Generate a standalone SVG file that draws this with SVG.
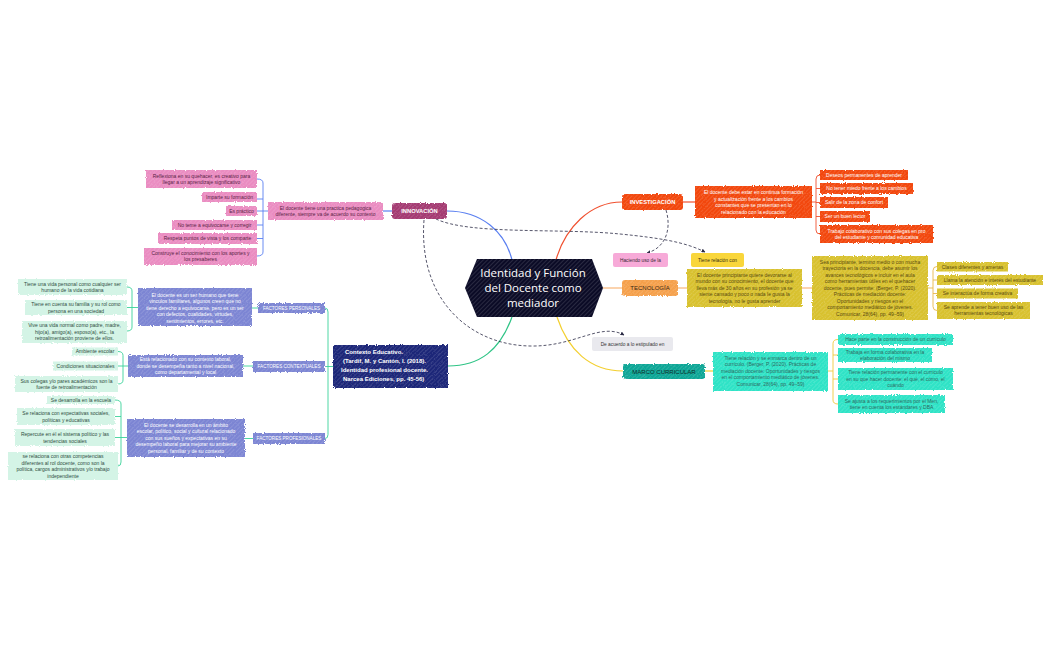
<svg xmlns="http://www.w3.org/2000/svg" width="1050" height="650" viewBox="0 0 1050 650">
<defs>
<pattern id="hatch" width="3" height="3" patternUnits="userSpaceOnUse" patternTransform="rotate(45)"><line x1="0" y1="0" x2="0" y2="3" stroke="#fff" stroke-opacity="0.36" stroke-width="0.7"/></pattern>
<filter id="rough" x="-5%" y="-15%" width="110%" height="130%"><feTurbulence type="fractalNoise" baseFrequency="0.9" numOctaves="1" seed="3" result="n"/><feDisplacementMap in="SourceGraphic" in2="n" scale="3" xChannelSelector="R" yChannelSelector="G"/></filter>
<marker id="arr" viewBox="0 0 8 8" refX="7" refY="4" markerWidth="5" markerHeight="5" orient="auto"><path d="M0,0 L8,4 L0,8 Z" fill="#2b2b45"/></marker>
<style>
text{font-family:"Liberation Sans",Arial,sans-serif;text-anchor:middle}
.s{font-size:5px}
.lab{font-size:5.8px;font-weight:bold}
.box{filter:url(#rough)}
.h{fill:url(#hatch);filter:url(#rough)}
.pk{fill:#ea8cc1}.pkt{fill:#5a2446}
.rd{fill:#f2460f}.w{fill:#fff}
.yl{fill:#d8c12e}.ylt{fill:#5b4c10}
.aq{fill:#2ee3c6}.aqt{fill:#2e6b62}
.mn{fill:#d4f4e6}.mnt{fill:#2f4e42}
.pv{fill:#7c85d3}
.c{fill:none;stroke-width:1.2}
.br{fill:none;stroke-width:0.9}
.d{fill:none;stroke:#2b2b45;stroke-width:0.8;stroke-dasharray:3 2;marker-end:url(#arr)}
</style>
</defs>
<rect width="1050" height="650" fill="#fff"/>

<g id="connectors">
<path class="c" stroke="#5a7ff0" d="M512,260 C505,232 482,211 447,211"/>
<path class="c" stroke="#5a7ff0" d="M383,211 H392"/>
<path class="br" stroke="#5a7ff0" d="M257,179 Q263,179 263,183 V252 Q263,256 257,256 M257,199 H263 M257,225 H263 M257,238.5 H263 M263,211 H268 M257,211 H263"/>
<path class="c" stroke="#f0502f" d="M556,260 C565,228 590,202 622,202"/>
<path class="c" stroke="#f0502f" d="M683,202 H695"/>
<path class="br" stroke="#f0502f" d="M820,175 Q816,175 816,179 V230 Q816,234 820,234 M816,188.5 H820 M816,202.5 H820 M816,216.5 H820 M812,202 H816"/>
<path class="c" stroke="#f7a85e" d="M603,288 H622 M678,288 H687 M802,288 H812"/>
<path class="br" stroke="#e8b84a" d="M937,266.5 Q933,266.5 933,270.5 V306.5 Q933,310.5 937,310.5 M933,280 H937 M933,293.5 H937 M928,288 H933"/>
<path class="c" stroke="#f3cf2f" d="M557,317 C568,350 590,371 623,371"/>
<path class="c" stroke="#f3cf2f" d="M705,371 H713"/>
<path class="br" stroke="#f0c93a" d="M838,339.5 Q833,339.5 833,343.5 V400 Q833,404 838,404 M833,355 H838 M833,379 H838 M828,371 H833"/>
<path class="c" stroke="#2fc486" d="M512,317 C500,350 480,366 448,366"/>
<path class="br" stroke="#3bd39a" d="M325,308 Q328,308 328,312 V434.5 Q328,438.5 325,438.5 M325,366.5 H333"/>
<path class="br" stroke="#3bd39a" d="M252,308 H258 M243,366 H253 M245,438.5 H253"/>
<path class="br" stroke="#3bd39a" d="M127,287 Q132,287 132,291 V327 Q132,331 127,331 M127,307.5 H138"/>
<path class="br" stroke="#3bd39a" d="M118,351.5 Q123,351.5 123,355.5 V380 Q123,384 118,384 M118,366 H128"/>
<path class="br" stroke="#3bd39a" d="M115,400 Q121,400 121,404 V462 Q121,466 118,466 M115,416.5 H121 M115,437.5 H127"/>
<path class="d" d="M424,220 C418,300 470,345 530,346 C575,347 600,322 624,335"/>
<path class="d" d="M436,219 C470,235 560,228 620,234 C660,238 685,242 705,252"/>
<path class="d" d="M666,210 C672,230 665,248 647,253"/>
</g>

<g id="center">
<polygon points="465,288 477,259 592,259 603,288 592,317 477,317" fill="#0b0b26"/>
<polygon points="465,288 477,259 592,259 603,288 592,317 477,317" fill="url(#hatch)"/>
<text x="533" y="277" fill="#fff" style="font-family:'Open Sans',sans-serif;font-size:11.5px">Identidad y Función</text>
<text x="533" y="292" fill="#fff" style="font-family:'Open Sans',sans-serif;font-size:11.5px">del Docente como</text>
<text x="533" y="307" fill="#fff" style="font-family:'Open Sans',sans-serif;font-size:11.5px">mediador</text>
</g>

<g id="innovacion">
<rect class="box" x="392" y="203" width="55" height="16" rx="3" fill="#a43a72"/><rect class="h" x="392" y="203" width="55" height="16" rx="3"/>
<text class="lab w" x="419.5" y="213">INNOVACIÓN</text>
</g>
<g id="innov-desc">
<rect class="box pk" x="268" y="202" width="115" height="18"/><rect class="h" x="268" y="202" width="115" height="18"/>
<text class="s pkt" x="325.5" y="209.5">El docente tiene una practica pedagogica</text>
<text class="s pkt" x="325.5" y="216">diferente, siempre va de acuerdo su contexto</text>
</g>
<g id="innov-1"><rect class="box pk" x="146" y="170" width="111" height="18"/><rect class="h" x="146" y="170" width="111" height="18"/>
<text class="s pkt" x="201.5" y="177.5">Reflexiona en su quehacer, es creativo para</text><text class="s pkt" x="201.5" y="184">llegar a un aprendizaje significativo</text></g>
<g id="innov-2"><rect class="box pk" x="202" y="192" width="55" height="10"/><rect class="h" x="202" y="192" width="55" height="10"/>
<text class="s pkt" x="229.5" y="198.8">Imparte su formación</text></g>
<g id="innov-3"><rect class="box pk" x="226" y="206" width="31" height="10"/><rect class="h" x="226" y="206" width="31" height="10"/>
<text class="s pkt" x="241.5" y="212.8">Es práctico</text></g>
<g id="innov-4"><rect class="box pk" x="172" y="220" width="85" height="10"/><rect class="h" x="172" y="220" width="85" height="10"/>
<text class="s pkt" x="214.5" y="226.8">No teme a equivocarse y corregir</text></g>
<g id="innov-5"><rect class="box pk" x="158" y="233" width="99" height="11"/><rect class="h" x="158" y="233" width="99" height="11"/>
<text class="s pkt" x="207.5" y="240.3">Respeta puntos de vista y los comparte</text></g>
<g id="innov-6"><rect class="box pk" x="144" y="248" width="113" height="17"/><rect class="h" x="144" y="248" width="113" height="17"/>
<text class="s pkt" x="200.5" y="254.8">Construye el conocimiento con los aportes y</text><text class="s pkt" x="200.5" y="261.3">los presaberes</text></g>

<g id="investigacion">
<rect class="box rd" x="622" y="194" width="61" height="16" rx="3"/><rect class="h" x="622" y="194" width="61" height="16" rx="3"/>
<text class="lab w" x="652.5" y="204.2">INVESTIGACIÓN</text>
</g>
<g id="invest-desc"><rect class="box rd" x="695" y="186" width="117" height="32"/><rect class="h" x="695" y="186" width="117" height="32"/>
<text class="s w" x="753.5" y="194">El docente debe estar en continua formación</text>
<text class="s w" x="753.5" y="200.5">y actualización frente a los cambios</text>
<text class="s w" x="753.5" y="207">constantes que se presentan en lo</text>
<text class="s w" x="753.5" y="213.5">relacionado con la educación</text></g>
<g id="invest-1"><rect class="box rd" x="820" y="170" width="88" height="10"/><rect class="h" x="820" y="170" width="88" height="10"/><text class="s w" x="864" y="176.8">Deseos permanentes de aprender</text></g>
<g id="invest-2"><rect class="box rd" x="820" y="183" width="93" height="11"/><rect class="h" x="820" y="183" width="93" height="11"/><text class="s w" x="866.5" y="190.3">No tener miedo frente a los cambios</text></g>
<g id="invest-3"><rect class="box rd" x="820" y="197" width="68" height="11"/><rect class="h" x="820" y="197" width="68" height="11"/><text class="s w" x="854" y="204.3">Salir de la zona de confort</text></g>
<g id="invest-4"><rect class="box rd" x="820" y="211" width="50" height="11"/><rect class="h" x="820" y="211" width="50" height="11"/><text class="s w" x="845" y="218.3">Ser un buen lector</text></g>
<g id="invest-5"><rect class="box rd" x="820" y="225" width="113" height="18"/><rect class="h" x="820" y="225" width="113" height="18"/>
<text class="s w" x="876.5" y="232.5">Trabajo colaborativo con sus colegas en pro</text><text class="s w" x="876.5" y="239">del estudiante y comunidad educativa</text></g>

<g id="haciendo"><rect x="613" y="253" width="55" height="14" rx="2" fill="#f7aad8"/><text class="s" x="640.5" y="261.8" fill="#3a2a35" style="font-size:4.8px">Haciendo uso de la</text></g>
<g id="tiene-relacion"><rect x="691" y="253" width="53" height="14" rx="2" fill="#f9d63b"/><text class="s" x="717.5" y="261.8" fill="#3a3010" style="font-size:4.8px">Tiene relación con</text></g>

<g id="tecnologia">
<rect class="box" x="622" y="280" width="56" height="16" rx="3" fill="#f5a04c"/><rect class="h" x="622" y="280" width="56" height="16" rx="3"/>
<text class="lab" x="650" y="290.2" fill="#3a2614" style="font-weight:normal;font-size:6px">TECNOLOGÍA</text>
</g>
<g id="tec-desc"><rect class="box yl" x="687" y="269" width="115" height="38"/><rect class="h" x="687" y="269" width="115" height="38"/>
<text class="s ylt" x="744.5" y="276.8">El docente principiante quiere devorarse al</text>
<text class="s ylt" x="744.5" y="283.3">mundo con su conocimiento, el docente que</text>
<text class="s ylt" x="744.5" y="289.8">lleva más de 30 años en su profesión ya se</text>
<text class="s ylt" x="744.5" y="296.3">siente cansado y poco o nada le gusta la</text>
<text class="s ylt" x="744.5" y="302.8">tecnología, no le gusta aprender</text></g>
<g id="tec-desc2"><rect class="box yl" x="812" y="256" width="116" height="64"/><rect class="h" x="812" y="256" width="116" height="64"/>
<text class="s ylt" x="870" y="263.8">Sea principiante, termino medio o con mucha</text>
<text class="s ylt" x="870" y="270.3">trayectoria en la docencia, debe asumir los</text>
<text class="s ylt" x="870" y="276.8">avances tecnológicos e incluir en el aula</text>
<text class="s ylt" x="870" y="283.3">como herramientas útiles en el quehacer</text>
<text class="s ylt" x="870" y="289.8">docente, pues permite: (Berger, P. (2020).</text>
<text class="s ylt" x="870" y="296.3">Prácticas de mediación docente:</text>
<text class="s ylt" x="870" y="302.8">Oportunidades y riesgos en el</text>
<text class="s ylt" x="870" y="309.3">comportamiento mediático de jóvenes.</text>
<text class="s ylt" x="870" y="315.8">Comunicar, 28(64), pp. 49–59)</text></g>
<g id="tec-1"><rect class="box yl" x="937" y="262" width="71" height="9.5"/><rect class="h" x="937" y="262" width="71" height="9.5"/><text class="s ylt" x="972.5" y="268.5">Clases diferentes y amenas</text></g>
<g id="tec-2"><rect class="box yl" x="937" y="275" width="106" height="10"/><rect class="h" x="937" y="275" width="106" height="10"/><text class="s ylt" x="990" y="281.8">Llama la atención e interés del estudiante</text></g>
<g id="tec-3"><rect class="box yl" x="937" y="288.5" width="81" height="10"/><rect class="h" x="937" y="288.5" width="81" height="10"/><text class="s ylt" x="977.5" y="295.3">Se interactúa de forma creativa</text></g>
<g id="tec-4"><rect class="box yl" x="937" y="302" width="93" height="17"/><rect class="h" x="937" y="302" width="93" height="17"/>
<text class="s ylt" x="983.5" y="308.8">Se aprende a tener buen uso de las</text><text class="s ylt" x="983.5" y="315.3">herramientas tecnológicas</text></g>

<g id="de-acuerdo"><rect x="592" y="337" width="81" height="14" rx="2" fill="#e9e9ee"/><text class="s" x="632.5" y="345.8" fill="#333" style="font-size:4.8px">De acuerdo a lo estipulado en</text></g>

<g id="marco">
<rect class="box" x="623" y="364" width="82" height="15" rx="3" fill="#0fa696"/><rect class="h" x="623" y="364" width="82" height="15" rx="3"/>
<text class="lab" x="664" y="373.6" fill="#0d2d2a" style="font-weight:normal;font-size:6px">MARCO CURRICULAR</text>
</g>
<g id="marco-desc"><rect class="box aq" x="713" y="352" width="115" height="39"/><rect class="h" x="713" y="352" width="115" height="39"/>
<text class="s aqt" x="770.5" y="359.8">Tiene relación y se enmarca dentro de un</text>
<text class="s aqt" x="770.5" y="366.3">currículo. (Berger, P. (2020). Prácticas de</text>
<text class="s aqt" x="770.5" y="372.8">mediación docente: Oportunidades y riesgos</text>
<text class="s aqt" x="770.5" y="379.3">en el comportamiento mediático de jóvenes.</text>
<text class="s aqt" x="770.5" y="385.8">Comunicar, 28(64), pp. 49–59)</text></g>
<g id="marco-1"><rect class="box aq" x="838" y="334" width="115" height="11"/><rect class="h" x="838" y="334" width="115" height="11"/><text class="s aqt" x="895.5" y="341.3">Hace parte en la construcción de un currículo</text></g>
<g id="marco-2"><rect class="box aq" x="838" y="348" width="94" height="14"/><rect class="h" x="838" y="348" width="94" height="14"/>
<text class="s aqt" x="885" y="353.5">Trabaja en forma colaborativa en la</text><text class="s aqt" x="885" y="360">elaboración del mismo</text></g>
<g id="marco-3"><rect class="box aq" x="838" y="368" width="115" height="22"/><rect class="h" x="838" y="368" width="115" height="22"/>
<text class="s aqt" x="895.5" y="374.3">Tiene relación permanente con el currículo</text><text class="s aqt" x="895.5" y="380.8">en su que hacer docente: el qué, el cómo, el</text><text class="s aqt" x="895.5" y="387.3">cuándo</text></g>
<g id="marco-4"><rect class="box aq" x="838" y="395" width="107" height="18"/><rect class="h" x="838" y="395" width="107" height="18"/>
<text class="s aqt" x="891.5" y="402.5">Se ajusta a los requerimientos por el Men,</text><text class="s aqt" x="891.5" y="409">tiene en cuenta los estándares y DBA</text></g>

<g id="contexto">
<rect class="box" x="333" y="345" width="115" height="43" fill="#1e2778"/><rect class="h" x="333" y="345" width="115" height="43"/>
<text x="345" y="354.2" fill="#fff" style="font-size:6px;font-weight:bold;text-anchor:start">Contexto Educativo.</text>
<text x="343" y="363" fill="#fff" style="font-size:6px;font-weight:bold;text-anchor:start">(Tardif, M. y Cantón, I. (2018).</text>
<text x="341" y="371.8" fill="#fff" style="font-size:6px;font-weight:bold;text-anchor:start">Identidad profesional docente.</text>
<text x="343" y="380.5" fill="#fff" style="font-size:6px;font-weight:bold;text-anchor:start">Narcea Ediciones, pp. 45-56)</text>
</g>

<g id="f-personales"><rect class="box pv" x="258" y="303" width="67" height="10"/><rect class="h" x="258" y="303" width="67" height="10"/><text class="w" x="291.5" y="309.7" style="font-size:4.6px">FACTORES PERSONALES</text></g>
<g id="f-contextuales"><rect class="box pv" x="253" y="361" width="72" height="11"/><rect class="h" x="253" y="361" width="72" height="11"/><text class="w" x="289" y="368.2" style="font-size:4.6px">FACTORES CONTEXTUALES</text></g>
<g id="f-profesionales"><rect class="box pv" x="253" y="433" width="72" height="11"/><rect class="h" x="253" y="433" width="72" height="11"/><text class="w" x="289" y="440.2" style="font-size:4.6px">FACTORES PROFESIONALES</text></g>

<g id="pers-desc"><rect class="box pv" x="138" y="288" width="114" height="38"/><rect class="h" x="138" y="288" width="114" height="38"/>
<text class="s w" x="195" y="296.5">El docente es un ser humano que tiene</text>
<text class="s w" x="195" y="303.1">vinculos familiares, algunos creen que no</text>
<text class="s w" x="195" y="309.7">tiene derecho a equivocarse, pero es un ser</text>
<text class="s w" x="195" y="316.3">con defectos, cualidades, virtudes,</text>
<text class="s w" x="195" y="322.9">sentimientos, errores, etc.</text></g>
<g id="pers-1"><rect class="box mn" x="18" y="279" width="109" height="16"/><text class="s mnt" x="72.5" y="285.8">Tiene una vida personal como cualquier ser</text><text class="s mnt" x="72.5" y="292.3">humano de la vida cotidiana</text></g>
<g id="pers-2"><rect class="box mn" x="25" y="300" width="102" height="15"/><text class="s mnt" x="76" y="306">Tiene en cuenta su familia y su rol como</text><text class="s mnt" x="76" y="312.5">persona en una sociedad</text></g>
<g id="pers-3"><rect class="box mn" x="22" y="321" width="105" height="22"/><text class="s mnt" x="74.5" y="327.3">Vive una vida normal como padre, madre,</text><text class="s mnt" x="74.5" y="333.8">hijo(a), amigo(a), esposo(a), etc., la</text><text class="s mnt" x="74.5" y="340.3">retroalimentación proviene de ellos.</text></g>

<g id="cont-desc"><rect class="box pv" x="128" y="355" width="115" height="22"/><rect class="h" x="128" y="355" width="115" height="22"/>
<text class="s w" x="185.5" y="361.3">Está relacionado con su contexto laboral,</text>
<text class="s w" x="185.5" y="367.8">donde se desempeña tanto a nivel nacional,</text>
<text class="s w" x="185.5" y="374.3">como departamental y local</text></g>
<g id="cont-1"><rect class="box mn" x="72" y="347.5" width="46" height="8"/><text class="s mnt" x="95" y="353.3">Ambiente escolar</text></g>
<g id="cont-2"><rect class="box mn" x="53" y="361.5" width="65" height="9"/><text class="s mnt" x="85.5" y="367.8">Condiciones situacionales</text></g>
<g id="cont-3"><rect class="box mn" x="15" y="376" width="103" height="16"/><text class="s mnt" x="66.5" y="382.6">Sus colegas y/o pares académicos son la</text><text class="s mnt" x="66.5" y="389.1">fuente de retroalimentación</text></g>

<g id="prof-desc"><rect class="box pv" x="127" y="419" width="118" height="38"/><rect class="h" x="127" y="419" width="118" height="38"/>
<text class="s w" x="186" y="426.8">El docente se desarrolla en un ámbito</text>
<text class="s w" x="186" y="433.3">escolar, político, social y cultural relacionado</text>
<text class="s w" x="186" y="439.8">con sus sueños y expectativas en su</text>
<text class="s w" x="186" y="446.3">desempeño laboral para mejorar su ambiente</text>
<text class="s w" x="186" y="452.8">personal, familiar y de su contexto</text></g>
<g id="prof-1"><rect class="box mn" x="47" y="396" width="68" height="8"/><text class="s mnt" x="81" y="401.8">Se desarrolla en la escuela</text></g>
<g id="prof-2"><rect class="box mn" x="17" y="408" width="98" height="17"/><text class="s mnt" x="66" y="415">Se relaciona con expectativas sociales,</text><text class="s mnt" x="66" y="421.5">políticas y educativas</text></g>
<g id="prof-3"><rect class="box mn" x="15" y="429" width="100" height="17"/><text class="s mnt" x="65" y="436">Repercute en él el sistema político y las</text><text class="s mnt" x="65" y="442.5">tendencias sociales</text></g>
<g id="prof-4"><rect class="box mn" x="8" y="452" width="110" height="28"/><text class="s mnt" x="63" y="458">se relaciona con otras competencias</text><text class="s mnt" x="63" y="464.5">diferentes al rol docente, como son la</text><text class="s mnt" x="63" y="471">política, cargos administrativos y/o trabajo</text><text class="s mnt" x="63" y="477.5">independiente</text></g>
</svg>
